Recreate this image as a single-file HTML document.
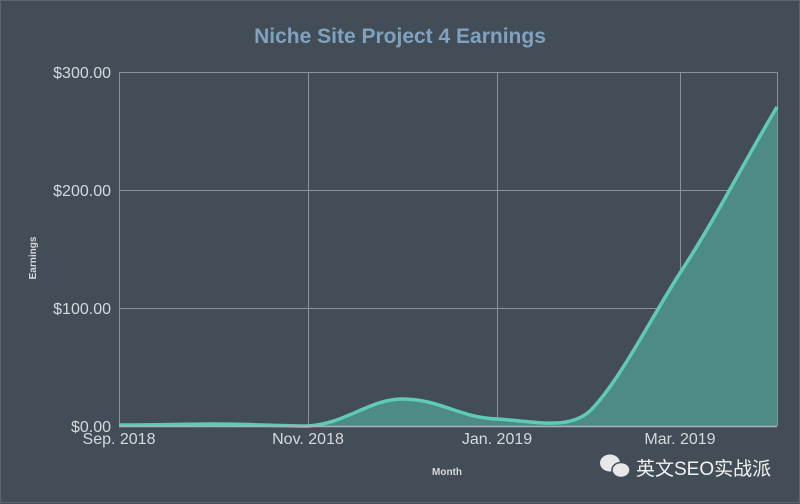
<!DOCTYPE html>
<html><head><meta charset="utf-8"><style>
html,body{margin:0;padding:0;background:#434d58;}
svg{display:block}
</style></head><body>
<svg width="800" height="504" viewBox="0 0 800 504" xmlns="http://www.w3.org/2000/svg" font-family="'Liberation Sans', 'Noto Sans CJK SC', sans-serif">
<rect width="800" height="504" fill="#434d58"/>
<rect x="0.5" y="0.5" width="799" height="502" fill="none" stroke="#5c6670" stroke-width="1"/>
<text x="400" y="43" text-anchor="middle" font-size="21" font-weight="bold" fill="#7fa3bf">Niche Site Project 4 Earnings</text>
<g stroke="#8a939c" stroke-width="1" fill="none">
<line x1="119" y1="72.5" x2="777" y2="72.5"/>
<line x1="119" y1="190.5" x2="777" y2="190.5"/>
<line x1="119" y1="308.5" x2="777" y2="308.5"/>
<line x1="119.5" y1="72" x2="119.5" y2="426"/>
<line x1="308.5" y1="72" x2="308.5" y2="426"/>
<line x1="497.5" y1="72" x2="497.5" y2="426"/>
<line x1="680.5" y1="72" x2="680.5" y2="426"/>
<line x1="777.5" y1="72" x2="777.5" y2="426"/>
</g>
<path d="M119,425 C160,425 190,424 213,424 C250,424 280,426 308,426 C345,424 370,399 402,399 C440,399 460,418 497,419 C540,422 570,430 591,410 C620,380 650,320 680,273 C715,220 745,160 777,107 L777,426 L119,426 Z" fill="#4e8a86"/>
<path d="M119,425 C160,425 190,424 213,424 C250,424 280,426 308,426 C345,424 370,399 402,399 C440,399 460,418 497,419 C540,422 570,430 591,410 C620,380 650,320 680,273 C715,220 745,160 777,107" fill="none" stroke="#5ecbb6" stroke-width="3.5"/>
<line x1="119" y1="426.5" x2="777" y2="426.5" stroke="#a9b3b6" stroke-width="1.5"/>
<g font-size="16" fill="#d5d9dc" text-anchor="end">
<text x="111" y="78">$300.00</text>
<text x="111" y="196">$200.00</text>
<text x="111" y="314">$100.00</text>
<text x="111" y="432">$0.00</text>
</g>
<g font-size="16" fill="#d5d9dc" text-anchor="middle">
<text x="119" y="444">Sep. 2018</text>
<text x="308" y="444">Nov. 2018</text>
<text x="497" y="444">Jan. 2019</text>
<text x="680" y="444">Mar. 2019</text>
</g>
<text x="447" y="475" font-size="10" font-weight="bold" fill="#d5d9dc" text-anchor="middle">Month</text>
<text transform="translate(36,258) rotate(-90)" font-size="10" font-weight="bold" fill="#d5d9dc" text-anchor="middle">Earnings</text>
<g fill="#e8e8e8">
<ellipse cx="610" cy="463" rx="10" ry="8.5"/>
<ellipse cx="621" cy="470" rx="9" ry="7.5" stroke="#434d58" stroke-width="1.5"/>
</g>
<text x="636" y="475" font-size="19" fill="#f2f2f2">英文SEO实战派</text>
</svg>
</body></html>
